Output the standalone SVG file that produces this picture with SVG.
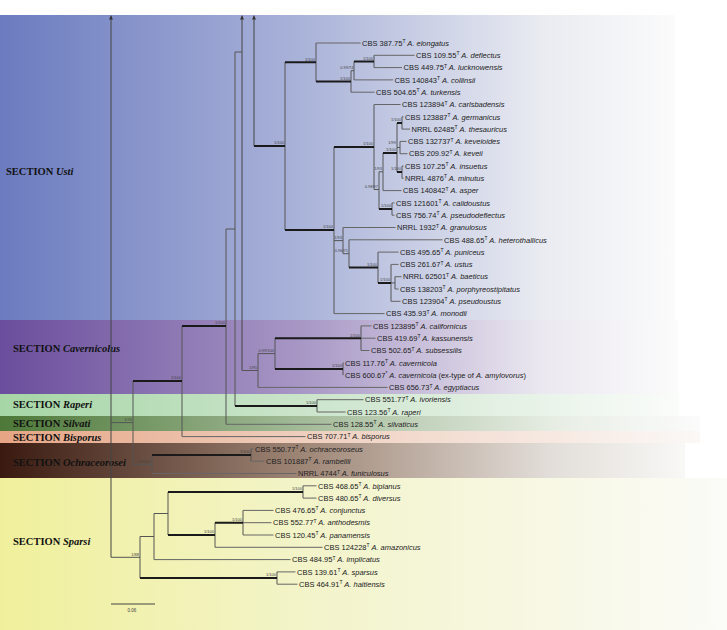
<svg xmlns="http://www.w3.org/2000/svg" width="727" height="630" viewBox="0 0 727 630">
<defs>
<linearGradient id="gU" x1="0" y1="0" x2="1" y2="0"><stop offset="0" stop-color="#6b7bbf"/><stop offset="0.45" stop-color="#aab3d9"/><stop offset="0.8" stop-color="#e9ebf1"/><stop offset="1" stop-color="#fbfbfb"/></linearGradient>
<linearGradient id="gC" x1="0" y1="0" x2="1" y2="0"><stop offset="0" stop-color="#6a4d9c"/><stop offset="0.45" stop-color="#a898c6"/><stop offset="0.8" stop-color="#ebe8f0"/><stop offset="1" stop-color="#fbfbfb"/></linearGradient>
<linearGradient id="gR" x1="0" y1="0" x2="1" y2="0"><stop offset="0" stop-color="#a6d6a6"/><stop offset="0.5" stop-color="#cfe6cf"/><stop offset="1" stop-color="#fafcfa"/></linearGradient>
<linearGradient id="gS" x1="0" y1="0" x2="1" y2="0"><stop offset="0" stop-color="#4d7838"/><stop offset="0.45" stop-color="#a6bd9c"/><stop offset="0.8" stop-color="#e8eee5"/><stop offset="1" stop-color="#fbfbfb"/></linearGradient>
<linearGradient id="gB" x1="0" y1="0" x2="1" y2="0"><stop offset="0" stop-color="#e6a585"/><stop offset="0.45" stop-color="#efd0c0"/><stop offset="1" stop-color="#fbf8f6"/></linearGradient>
<linearGradient id="gO" x1="0" y1="0" x2="1" y2="0"><stop offset="0" stop-color="#3a1a10"/><stop offset="0.45" stop-color="#a08878"/><stop offset="0.8" stop-color="#e2ddd8"/><stop offset="1" stop-color="#f8f8f6"/></linearGradient>
<linearGradient id="gP" x1="0" y1="0" x2="1" y2="0"><stop offset="0" stop-color="#f0f09c"/><stop offset="0.45" stop-color="#f3f4cc"/><stop offset="1" stop-color="#fbfbf8"/></linearGradient>
<marker id="ar" viewBox="0 0 4 4" refX="4" refY="2" markerWidth="4" markerHeight="4" markerUnits="userSpaceOnUse" orient="auto"><path d="M0,0 L4,2 L0,4 z" fill="#333"/></marker>
<style>
.sec{font-family:"Liberation Serif","Times New Roman",serif;font-size:10.5px;font-weight:bold;fill:#111}
.sec tspan{font-style:italic}
.tip text{font-family:"Liberation Sans",Arial,sans-serif;font-size:7.5px;fill:#222}
.s{font-size:5px}
.i{font-style:italic}
.br{fill:none;stroke:#555;stroke-width:1}
.tk{fill:none;stroke:#1a1a1a;stroke-width:2}
.tp{fill:none;stroke:#666;stroke-width:1}
.ax{fill:none;stroke:#444;stroke-width:1}
.sp{font-family:"Liberation Sans",Arial,sans-serif;font-size:4px;fill:#444;text-anchor:end}
.sc{font-family:"Liberation Sans",Arial,sans-serif;font-size:4.5px;fill:#444;text-anchor:middle}
</style>
</defs>
<rect width="727" height="630" fill="#ffffff"/>
<g id="bands">
<rect x="0" y="15" width="675" height="305" fill="url(#gU)"/>
<rect x="0" y="320" width="678" height="74" fill="url(#gC)"/>
<rect x="0" y="394" width="678" height="22" fill="url(#gR)"/>
<rect x="0" y="416" width="700" height="15" fill="url(#gS)"/>
<rect x="0" y="431" width="700" height="12" fill="url(#gB)"/>
<rect x="0" y="443" width="685" height="35" fill="url(#gO)"/>
<rect x="0" y="478" width="727" height="152" fill="url(#gP)"/>
</g>
<g id="sections">
<text id="sec-usti" class="sec" x="6" y="175">SECTION <tspan>Usti</tspan></text>
<text id="sec-cav" class="sec" x="13" y="352">SECTION <tspan>Cavernicolus</tspan></text>
<text id="sec-rap" class="sec" x="13" y="408">SECTION <tspan>Raperi</tspan></text>
<text id="sec-sil" class="sec" x="13" y="426.5">SECTION <tspan>Silvati</tspan></text>
<text id="sec-bis" class="sec" x="13" y="440.5">SECTION <tspan>Bisporus</tspan></text>
<text id="sec-och" class="sec" x="13" y="466">SECTION <tspan>Ochraceorosei</tspan></text>
<text id="sec-spa" class="sec" x="13" y="545">SECTION <tspan>Sparsi</tspan></text>
</g>
<g id="connectors">
<path class="ax" marker-end="url(#ar)" d="M111 557.3 V15.5"/>
<path class="ax" marker-end="url(#ar)" d="M242 370.5 V15.5"/>
<path class="ax" marker-end="url(#ar)" d="M254 146 V15.5"/>
<path class="br" d="M285 62.2 V230 M316 43 V81.4 M351 70.7 V92.2 M351 70.7 H354 M354 61.45 V79.9 M374 55.3 V67.6 M334 147 V313.6 M374 104.5 V189.5 M374 189.5 H379 M379 171.8 V209 M379 171.8 H383 M383 153 V190.6 M397 123 V172 M402 116.8 V129.1 M397 147.5 H400 M400 141.4 V153.7 M402 166 V178.3 M392 202.9 V215.2 M334 240.6 H343 M343 227.5 V253.7 M343 253.7 H349 M349 239.8 V267.5 M378 252.1 V283 M391 264.4 V301.3 M391 282.9 H395 M395 276.7 V289"/>
<path class="br" d="M242 370.5 H258 M258 353.6 V387.4 M258 353.6 H275 M275 338.2 V369 M361 325.9 V350.5 M343 362.8 V375.1 M235 52 H242 M235 52 V406 M317 399.7 V412 M226 229 H235 M226 229 V424.3 M182 326 V436.6 M133 381 V464.3 M133 464.3 H152 M152 455 V473.5 M251 448.9 V461.2 M111 422.6 H133 M111 557.3 H140 M140 536.5 V578 M140 536.5 H154 M154 513.5 V559.6 M154 513.5 H168 M168 492 V535 M303 485.8 V498.1 M215 522.7 V547.3 M243 510.4 V535 M277 571.9 V584.2"/>
<path class="tk" d="M285 62.2 H316 M316 81.4 H351 M354 61.45 H374 M254 146 H285 M334 147 H374 M397 123 H402 M397 172 H402 M383 153 H397 M379 209 H392 M285 230 H334 M349 267.5 H378 M378 283 H391 M275 338.2 H361 M275 369 H343 M235 406 H317 M182 326 H226 M133 381 H182 M152 455 H251 M140 578 H277 M168 492 H303 M168 535 H215 M215 522.7 H243"/>
<path class="tp" d="M316 43 H360.5 M374 55.3 H414.5 M374 67.6 H402 M354 79.9 H393 M351 92.2 H374.5 M374 104.5 H400.5 M402 116.8 H403.5 M402 129.1 H410 M400 141.4 H406.5 M400 153.7 H407.5 M402 166 H403.5 M402 178.3 H403.5 M383 190.6 H401.5 M392 202.9 H394.5 M392 215.2 H394.5 M343 227.5 H395.5 M349 239.8 H442.5 M378 252.1 H398.5 M391 264.4 H398.5 M395 276.7 H401.5 M395 289 H398.5 M391 301.3 H400.5 M334 313.6 H384.5"/>
<path class="tp" d="M361 325.9 H371.5 M361 338.2 H375.5 M361 350.5 H369.5 M343 362.8 H343.5 M258 387.4 H387.5 M317 399.7 H363.5 M317 412 H345.5 M226 424.3 H331.5 M182 436.6 H305.5 M251 448.9 H253.5 M251 461.2 H264.5 M152 473.5 H296.5 M303 485.8 H316.5 M303 498.1 H316.5 M243 510.4 H273.5 M243 522.7 H271.5 M243 535 H273.5 M215 547.3 H322.5 M154 559.6 H290.5 M277 571.9 H295.5 M277 584.2 H297.5"/>
<path class="ax" d="M111 604 H155"/>
</g>
<g id="support">
<text class="sp" x="315" y="60.5">1/100</text>
<text class="sp" x="350" y="79.8">1/100</text>
<text class="sp" x="353.5" y="69">0.99/74</text>
<text class="sp" x="373" y="59.8">1/100</text>
<text class="sp" x="284" y="144.3">1/100</text>
<text class="sp" x="373" y="145.3">1/100</text>
<text class="sp" x="401" y="121.3">1/100</text>
<text class="sp" x="396" y="143.5">1/99</text>
<text class="sp" x="396" y="151.3">1/100</text>
<text class="sp" x="401" y="170.3">1/100</text>
<text class="sp" x="382" y="170.3">1/93</text>
<text class="sp" x="378" y="188">0.98/97</text>
<text class="sp" x="391" y="207.3">1/100</text>
<text class="sp" x="333" y="228.3">1/100</text>
<text class="sp" x="342" y="239">1/93</text>
<text class="sp" x="348" y="252">0.96/71</text>
<text class="sp" x="377" y="265.8">1/100</text>
<text class="sp" x="390" y="281.3">1/100</text>
<text class="sp" x="225" y="324.3">1/100</text>
<text class="sp" x="257" y="369">1/95</text>
<text class="sp" x="274" y="352">0.99/100</text>
<text class="sp" x="360" y="336.5">1/100</text>
<text class="sp" x="342" y="367.3">1/100</text>
<text class="sp" x="316" y="404.3">1/100</text>
<text class="sp" x="181" y="379.3">1/100</text>
<text class="sp" x="132" y="421">1/76</text>
<text class="sp" x="151" y="463">0.91/87</text>
<text class="sp" x="250" y="453.3">1/100</text>
<text class="sp" x="139" y="556">1/88</text>
<text class="sp" x="276" y="576.3">1/100</text>
<text class="sp" x="302" y="490.3">1/100</text>
<text class="sp" x="214" y="533.3">1/100</text>
<text class="sp" x="242" y="521">1/100</text>
<text class="sc" x="132" y="612">0.06</text>
</g>
<g id="tips">
<g id="t1" class="tip"><text x="362" y="45.7">CBS 387.75<tspan class="s" dy="-2.6">T</tspan><tspan class="i" dy="2.6"> A. elongatus</tspan></text></g>
<g id="t2" class="tip"><text x="416" y="58">CBS 109.55<tspan class="s" dy="-2.6">T</tspan><tspan class="i" dy="2.6"> A. deflectus</tspan></text></g>
<g id="t3" class="tip"><text x="403.5" y="70.3">CBS 449.75<tspan class="s" dy="-2.6">T</tspan><tspan class="i" dy="2.6"> A. lucknowensis</tspan></text></g>
<g id="t4" class="tip"><text x="394.5" y="82.6">CBS 140843<tspan class="s" dy="-2.6">T</tspan><tspan class="i" dy="2.6"> A. collinsii</tspan></text></g>
<g id="t5" class="tip"><text x="376" y="94.9">CBS 504.65<tspan class="s" dy="-2.6">T</tspan><tspan class="i" dy="2.6"> A. turkensis</tspan></text></g>
<g id="t6" class="tip"><text x="402" y="107.2">CBS 123894<tspan class="s" dy="-2.6">T</tspan><tspan class="i" dy="2.6"> A. carlsbadensis</tspan></text></g>
<g id="t7" class="tip"><text x="405" y="119.5">CBS 123887<tspan class="s" dy="-2.6">T</tspan><tspan class="i" dy="2.6"> A. germanicus</tspan></text></g>
<g id="t8" class="tip"><text x="411.5" y="131.8">NRRL 62485<tspan class="s" dy="-2.6">T</tspan><tspan class="i" dy="2.6"> A. thesauricus</tspan></text></g>
<g id="t9" class="tip"><text x="408" y="144.1">CBS 132737<tspan class="s" dy="-2.6">T</tspan><tspan class="i" dy="2.6"> A. keveioides</tspan></text></g>
<g id="t10" class="tip"><text x="409" y="156.4">CBS 209.92<tspan class="s" dy="-2.6">T</tspan><tspan class="i" dy="2.6"> A. keveii</tspan></text></g>
<g id="t11" class="tip"><text x="405" y="168.7">CBS 107.25<tspan class="s" dy="-2.6">T</tspan><tspan class="i" dy="2.6"> A. insuetus</tspan></text></g>
<g id="t12" class="tip"><text x="405" y="181">NRRL 4876<tspan class="s" dy="-2.6">T</tspan><tspan class="i" dy="2.6"> A. minutus</tspan></text></g>
<g id="t13" class="tip"><text x="403" y="193.3">CBS 140842<tspan class="s" dy="-2.6">T</tspan><tspan class="i" dy="2.6"> A. asper</tspan></text></g>
<g id="t14" class="tip"><text x="396" y="205.6">CBS 121601<tspan class="s" dy="-2.6">T</tspan><tspan class="i" dy="2.6"> A. calidoustus</tspan></text></g>
<g id="t15" class="tip"><text x="396" y="217.9">CBS 756.74<tspan class="s" dy="-2.6">T</tspan><tspan class="i" dy="2.6"> A. pseudodeflectus</tspan></text></g>
<g id="t16" class="tip"><text x="397" y="230.2">NRRL 1932<tspan class="s" dy="-2.6">T</tspan><tspan class="i" dy="2.6"> A. granulosus</tspan></text></g>
<g id="t17" class="tip"><text x="444" y="242.5">CBS 488.65<tspan class="s" dy="-2.6">T</tspan><tspan class="i" dy="2.6"> A. heterothallicus</tspan></text></g>
<g id="t18" class="tip"><text x="400" y="254.8">CBS 495.65<tspan class="s" dy="-2.6">T</tspan><tspan class="i" dy="2.6"> A. puniceus</tspan></text></g>
<g id="t19" class="tip"><text x="400" y="267.1">CBS 261.67<tspan class="s" dy="-2.6">T</tspan><tspan class="i" dy="2.6"> A. ustus</tspan></text></g>
<g id="t20" class="tip"><text x="403" y="279.4">NRRL 62501<tspan class="s" dy="-2.6">T</tspan><tspan class="i" dy="2.6"> A. baeticus</tspan></text></g>
<g id="t21" class="tip"><text x="400" y="291.7">CBS 138203<tspan class="s" dy="-2.6">T</tspan><tspan class="i" dy="2.6"> A. porphyreostipitatus</tspan></text></g>
<g id="t22" class="tip"><text x="402" y="304">CBS 123904<tspan class="s" dy="-2.6">T</tspan><tspan class="i" dy="2.6"> A. pseudoustus</tspan></text></g>
<g id="t23" class="tip"><text x="386" y="316.3">CBS 435.93<tspan class="s" dy="-2.6">T</tspan><tspan class="i" dy="2.6"> A. monodii</tspan></text></g>
<g id="t24" class="tip"><text x="373" y="328.6">CBS 123895<tspan class="s" dy="-2.6">T</tspan><tspan class="i" dy="2.6"> A. californicus</tspan></text></g>
<g id="t25" class="tip"><text x="377" y="340.9">CBS 419.69<tspan class="s" dy="-2.6">T</tspan><tspan class="i" dy="2.6"> A. kassunensis</tspan></text></g>
<g id="t26" class="tip"><text x="371" y="353.2">CBS 502.65<tspan class="s" dy="-2.6">T</tspan><tspan class="i" dy="2.6"> A. subsessilis</tspan></text></g>
<g id="t27" class="tip"><text x="345" y="365.5">CBS 117.76<tspan class="s" dy="-2.6">T</tspan><tspan class="i" dy="2.6"> A. cavernicola</tspan></text></g>
<g id="t28" class="tip"><text x="345" y="377.8">CBS 600.67<tspan class="s" dy="-2.6">*</tspan><tspan class="i" dy="2.6"> A. cavernicola</tspan> (ex-type of <tspan class="i">A. amylovorus</tspan>)</text></g>
<g id="t29" class="tip"><text x="389" y="390.1">CBS 656.73<tspan class="s" dy="-2.6">T</tspan><tspan class="i" dy="2.6"> A. egyptiacus</tspan></text></g>
<g id="t30" class="tip"><text x="365" y="402.4">CBS 551.77<tspan class="s" dy="-2.6">T</tspan><tspan class="i" dy="2.6"> A. ivoriensis</tspan></text></g>
<g id="t31" class="tip"><text x="347" y="414.7">CBS 123.56<tspan class="s" dy="-2.6">T</tspan><tspan class="i" dy="2.6"> A. raperi</tspan></text></g>
<g id="t32" class="tip"><text x="333" y="427">CBS 128.55<tspan class="s" dy="-2.6">T</tspan><tspan class="i" dy="2.6"> A. silvaticus</tspan></text></g>
<g id="t33" class="tip"><text x="307" y="439.3">CBS 707.71<tspan class="s" dy="-2.6">T</tspan><tspan class="i" dy="2.6"> A. bisporus</tspan></text></g>
<g id="t34" class="tip"><text x="255" y="451.6">CBS 550.77<tspan class="s" dy="-2.6">T</tspan><tspan class="i" dy="2.6"> A. ochraceoroseus</tspan></text></g>
<g id="t35" class="tip"><text x="266" y="463.9">CBS 101887<tspan class="s" dy="-2.6">T</tspan><tspan class="i" dy="2.6"> A. rambellii</tspan></text></g>
<g id="t36" class="tip"><text x="298" y="476.2">NRRL 4744<tspan class="s" dy="-2.6">T</tspan><tspan class="i" dy="2.6"> A. funiculosus</tspan></text></g>
<g id="t37" class="tip"><text x="318" y="488.5">CBS 468.65<tspan class="s" dy="-2.6">T</tspan><tspan class="i" dy="2.6"> A. biplanus</tspan></text></g>
<g id="t38" class="tip"><text x="318" y="500.8">CBS 480.65<tspan class="s" dy="-2.6">T</tspan><tspan class="i" dy="2.6"> A. diversus</tspan></text></g>
<g id="t39" class="tip"><text x="275" y="513.1">CBS 476.65<tspan class="s" dy="-2.6">T</tspan><tspan class="i" dy="2.6"> A. conjunctus</tspan></text></g>
<g id="t40" class="tip"><text x="273" y="525.4">CBS 552.77<tspan class="s" dy="-2.6">T</tspan><tspan class="i" dy="2.6"> A. anthodesmis</tspan></text></g>
<g id="t41" class="tip"><text x="275" y="537.7">CBS 120.45<tspan class="s" dy="-2.6">T</tspan><tspan class="i" dy="2.6"> A. panamensis</tspan></text></g>
<g id="t42" class="tip"><text x="324" y="550">CBS 124228<tspan class="s" dy="-2.6">T</tspan><tspan class="i" dy="2.6"> A. amazonicus</tspan></text></g>
<g id="t43" class="tip"><text x="292" y="562.3">CBS 484.95<tspan class="s" dy="-2.6">T</tspan><tspan class="i" dy="2.6"> A. implicatus</tspan></text></g>
<g id="t44" class="tip"><text x="297" y="574.6">CBS 139.61<tspan class="s" dy="-2.6">T</tspan><tspan class="i" dy="2.6"> A. sparsus</tspan></text></g>
<g id="t45" class="tip"><text x="299" y="586.9">CBS 464.91<tspan class="s" dy="-2.6">T</tspan><tspan class="i" dy="2.6"> A. haitiensis</tspan></text></g>
</g>
</svg>
